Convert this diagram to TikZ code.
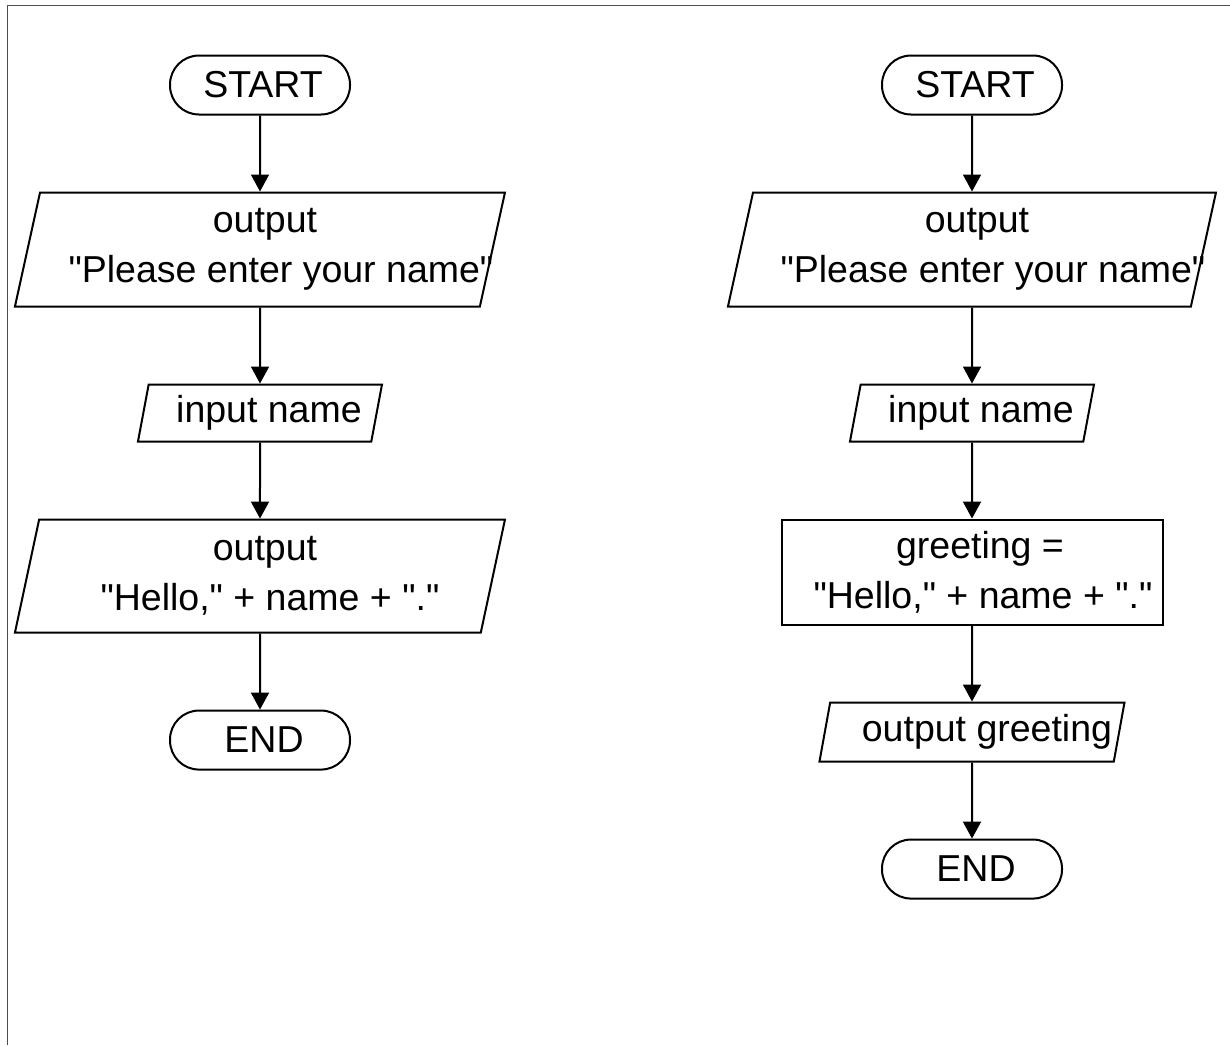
\documentclass[tikz,border=0pt]{standalone}
\usepackage{fontspec}
\setmainfont{Liberation Sans}[Ligatures=TeXOff]
\usepackage{tikz}
\usetikzlibrary{shapes,arrows.meta,positioning}

\begin{document}
\begin{tikzpicture}[x=0.5pt,y=-0.5pt,node distance=38pt,
	every node/.style={font=\fontsize{18.75}{25}\selectfont}]

	\tikzstyle{term}=[draw,line width=1pt,rectangle,rounded corners=14.5pt,minimum width=90pt,minimum height=29.5pt,inner sep=0pt]
	\tikzstyle{io}=[draw,line width=1pt,trapezium,trapezium left angle=73,trapezium right angle=107,trapezium stretches body,inner xsep=-15pt,inner ysep=0pt,align=center]
	\tikzstyle{proc}=[draw,line width=1pt,rectangle,minimum width=190.5pt,minimum height=52.5pt,inner sep=0pt,align=center]
	\tikzstyle{line}=[line width=1pt,-{Triangle[length=8.5pt,width=9pt]}]

	\useasboundingbox (0,0) rectangle (1230,1045);
	\draw[line width=0.5pt,black!70] (7,1045) -- (7,5) -- (1230,5);

	\begin{scope}
	\node[term] (startA) at (260,85) {\hspace*{3pt}START};
	\node[io,minimum width=245pt,minimum height=57pt,below=of startA] (askA) {\hspace*{5pt}output\\\hspace*{21pt}"Please enter your name"};
	\node[io,minimum width=122pt,minimum height=28.5pt,below=of askA] (readA) {\hspace*{9pt}input name};
	\node[io,minimum width=245pt,minimum height=56.5pt,below=of readA] (sayA) {\hspace*{5pt}output\\\hspace*{10pt}"Hello," + name + "."};
	\node[term,below=of sayA] (endA) {\hspace*{4pt}END};

	\draw[line] (startA) -- (askA);
	\draw[line] (askA) -- (readA);
	\draw[line] (readA) -- (sayA);
	\draw[line] (sayA) -- (endA);
	\end{scope}

	\begin{scope}
	\node[term] (startB) at (972,85) {\hspace*{3pt}START};
	\node[io,minimum width=244pt,minimum height=57pt,below=of startB] (askB) {\hspace*{5pt}output\\\hspace*{21pt}"Please enter your name"};
	\node[io,minimum width=122pt,minimum height=28.5pt,below=of askB] (readB) {\hspace*{9pt}input name};
	\node[proc,below=of readB] (calcB) {\hspace*{8pt}greeting =\\\hspace*{11pt}"Hello," + name + "."};
	\node[io,minimum width=152.5pt,minimum height=29.5pt,below=of calcB] (sayB) {\hspace*{15pt}output greeting};
	\node[term,below=of sayB] (endB) {\hspace*{4pt}END};

	\draw[line] (startB) -- (askB);
	\draw[line] (askB) -- (readB);
	\draw[line] (readB) -- (calcB);
	\draw[line] (calcB) -- (sayB);
	\draw[line] (sayB) -- (endB);
	\end{scope}

\end{tikzpicture}
\end{document}
